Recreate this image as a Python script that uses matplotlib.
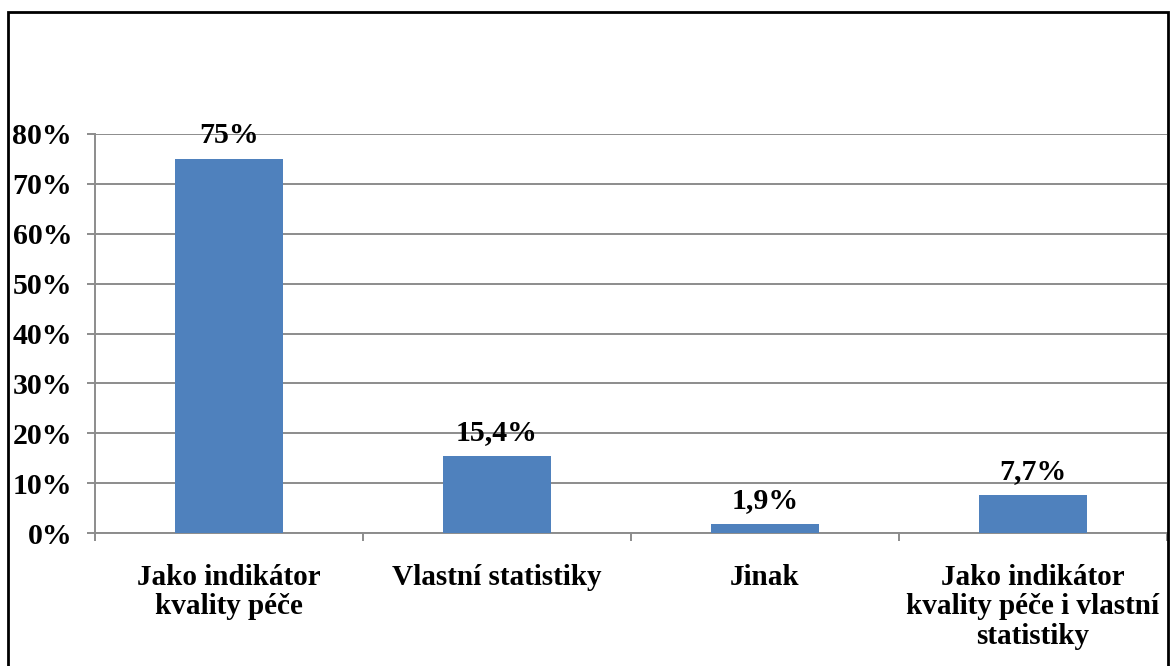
import numpy as np
import matplotlib.pyplot as plt
from matplotlib.patches import Rectangle
from matplotlib.ticker import FuncFormatter

# categories and shares (fractions)
categories = ["Jako indikátor\nkvality péče", "Vlastní statistiky", "Jinak",
              "Jako indikátor\nkvality péče i vlastní\nstatistiky"]
shares = [0.75, 0.154, 0.019, 0.077]
share_labels = ["75%", "15,4%", "1,9%", "7,7%"]
y_ticks = [0.0, 0.1, 0.2, 0.3, 0.4, 0.5, 0.6, 0.7, 0.8]

plt.rcParams['font.family'] = ['Liberation Serif', 'DejaVu Serif']
plt.rcParams['font.weight'] = 'bold'

W, H = 1171, 666
fig = plt.figure(figsize=(W / 100, H / 100), dpi=100)
ax = fig.add_axes([95 / W, (H - 533) / H, (1167 - 95) / W, (533 - 134) / H])

x = np.arange(len(categories))
ax.bar(x, shares, width=0.4, color='#4F81BD', zorder=3)

for xi, v, lab in zip(x, shares, share_labels):
    ax.annotate(lab, (xi, v), xytext=(0, 7), textcoords='offset points',
                ha='center', va='bottom', fontsize=21.5, fontweight='bold')

ax.set_xlim(-0.5, len(categories) - 0.5)
ax.set_ylim(0, 0.8)
ax.set_yticks(y_ticks)
ax.yaxis.set_major_formatter(FuncFormatter(lambda v, p: f"{v * 100:.0f}%"))
ax.grid(axis='y', color='#8c8c8c', linewidth=1.4, zorder=0)

# category boundaries as bottom tick marks, names centred under bars
ax.set_xticks(np.arange(len(categories) + 1) - 0.5)
ax.set_xticklabels([])
ax.set_xticks(x, minor=True)
ax.set_xticklabels(categories, minor=True, fontsize=21, fontweight='bold',
                   linespacing=1.14)
ax.tick_params(axis='x', which='major', length=6, width=1.4, color='#8c8c8c', direction='out')
ax.tick_params(axis='x', which='minor', length=0, pad=22)
ax.tick_params(axis='y', length=5.5, width=1.4, color='#8c8c8c', labelsize=21.5, pad=11)
for lab in ax.get_yticklabels():
    lab.set_fontweight('bold')

for side in ('top', 'right'):
    ax.spines[side].set_visible(False)
for side in ('left', 'bottom'):
    ax.spines[side].set_color('#8c8c8c')
    ax.spines[side].set_linewidth(1.4)

# outer frame around the chart
fig.add_artist(Rectangle((8 / W, -0.05), (1168 - 8) / W, 1.05 - 12 / H,
                         transform=fig.transFigure, fill=False,
                         edgecolor='black', linewidth=2, clip_on=False))

fig.savefig('out.png', dpi=100)
